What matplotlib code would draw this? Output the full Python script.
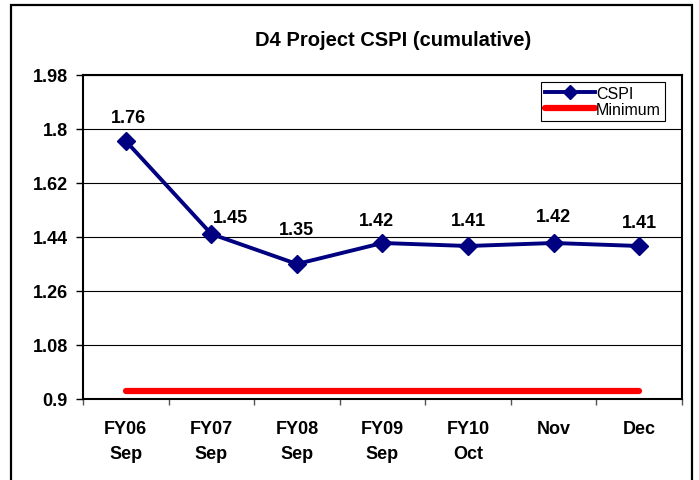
import matplotlib
matplotlib.use('Agg')
from matplotlib import pyplot as plt
from matplotlib.patches import Rectangle

plt.rcParams['font.family'] = ['Liberation Sans', 'DejaVu Sans']

categories = ['FY06\nSep', 'FY07\nSep', 'FY08\nSep', 'FY09\nSep', 'FY10\nOct', 'Nov', 'Dec']
cspi = [1.76, 1.45, 1.35, 1.42, 1.41, 1.42, 1.41]
minimum = [0.925, 0.925, 0.925, 0.925, 0.925, 0.925, 0.925]
y_ticks = [0.9, 1.08, 1.26, 1.44, 1.62, 1.8, 1.98]
y_tick_labels = ['0.9', '1.08', '1.26', '1.44', '1.62', '1.8', '1.98']

# label offsets in points (dx, dy) from each point
label_offsets = [(2, 17), (14, 12), (0, 25), (-4, 16), (0, 18), (0, 19), (0, 17)]

fig = plt.figure(figsize=(6.99, 4.81), dpi=100)
ax = fig.add_axes([0.1187, 0.1684, 0.857, 0.6736])

x = list(range(len(categories)))
ax.plot(x, minimum, color='#ff0000', linewidth=4.5, solid_capstyle='round', label='Minimum', zorder=3)
ax.plot(x, cspi, color='#000080', linewidth=2.8, marker='D', markersize=9, label='CSPI', zorder=4)

for i, v in enumerate(cspi):
    ax.annotate(f'{v:.2f}', (x[i], v), xytext=label_offsets[i], textcoords='offset points',
                ha='center', va='center', fontsize=13, fontweight='bold')

ax.set_xlim(-0.5, len(categories) - 0.5)
ax.set_ylim(0.9, 1.98)
ax.set_yticks(y_ticks)
ax.set_yticklabels(y_tick_labels, fontsize=13, fontweight='bold')
ax.set_xticks(x)
ax.set_xticklabels(categories, fontsize=13, fontweight='bold', linespacing=1.6)
ax.set_xticks([i - 0.5 for i in range(len(categories) + 1)], minor=True)
ax.tick_params(axis='x', which='major', length=0, pad=15)
ax.tick_params(axis='x', which='minor', length=4, width=1, color='#555555')
ax.tick_params(axis='y', length=5, width=1, pad=6)
ax.yaxis.grid(True, color='black', linewidth=0.8)
ax.set_axisbelow(True)
for s in ax.spines.values():
    s.set_linewidth(1.5)
    s.set_color('black')

handles, labels = ax.get_legend_handles_labels()
leg = ax.legend(handles[::-1], labels[::-1], loc='upper right',
                bbox_to_anchor=(665 / 699, 1 - 83 / 481), bbox_transform=fig.transFigure,
                fontsize=11.5, fancybox=False, framealpha=1, edgecolor='black',
                handlelength=3.1, handletextpad=0.1, labelspacing=0.05, borderpad=0.25,
                borderaxespad=0, markerscale=0.75)
leg.get_frame().set_linewidth(0.8)

fig.text(393 / 699, 1 - 40 / 481, 'D4 Project CSPI (cumulative)', ha='center', va='center',
         fontsize=14.5, fontweight='bold')

fig.patches.append(Rectangle((11 / 699, -0.1), (692 - 11) / 699, 1.1 - 6 / 481,
                             transform=fig.transFigure, fill=False, edgecolor='black',
                             linewidth=1.6, clip_on=False))

fig.savefig('out.png', dpi=100)
